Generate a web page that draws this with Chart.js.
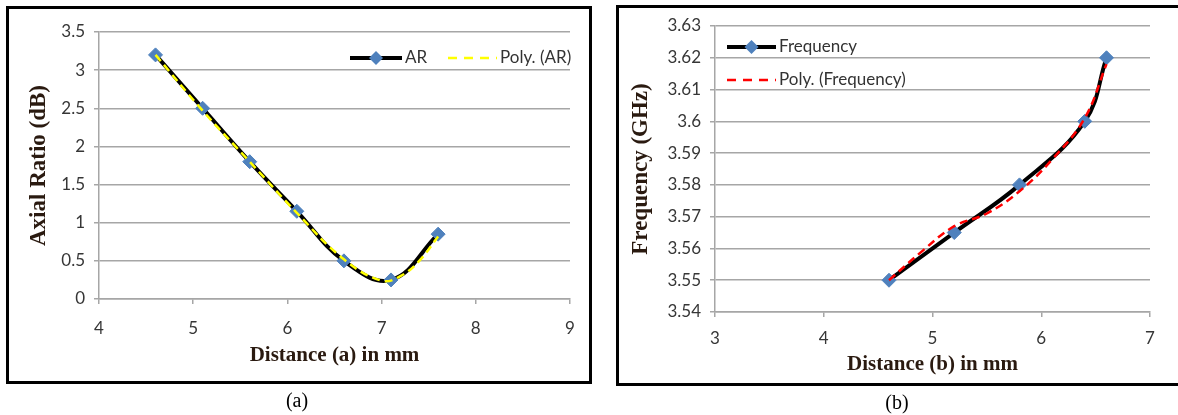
<!DOCTYPE html>
<html>
<head>
<meta charset="utf-8">
<script src="https://cdn.jsdelivr.net/npm/chart.js@4.4.0/dist/chart.umd.min.js"></script>
<style>
  body { margin:0; background:#fff; }
  #page { position:relative; width:1178px; height:415px; overflow:hidden; background:#fff; }
  .box { position:absolute; border:3px solid #000; box-sizing:border-box; }
  .cap { position:absolute; font-family:"Liberation Serif", serif; font-size:20px; color:#000; transform:translate(-50%,-50%); }
  canvas { position:absolute; top:0; }
</style>
</head>
<body>
<div id="page">
  <canvas id="chartA" width="600" height="415" style="left:0;width:600px;height:415px"></canvas>
  <canvas id="chartB" width="578" height="415" style="left:600px;width:578px;height:415px"></canvas>
  <div class="box" style="left:6px;top:6px;width:586px;height:378px"></div>
  <div class="box" style="left:616px;top:5px;width:570px;height:381px"></div>
  <div class="cap" style="left:297px;top:400px">(a)</div>
  <div class="cap" style="left:897px;top:402px">(b)</div>
</div>
<script>
// (a) axial ratio vs distance a
const distA = [4.6, 5.1, 5.6, 6.1, 6.6, 7.1, 7.6];
const arValues = [3.2, 2.5, 1.8, 1.15, 0.5, 0.25, 0.85];
// polynomial trendline
const polyDistA = [4.6, 5.1, 5.6, 6.1, 6.6, 7.0, 7.2, 7.4, 7.6];
const polyAR = [3.2, 2.47, 1.8, 1.13, 0.52, 0.24, 0.3, 0.5, 0.82];

// (b) frequency vs distance b
const distB = [4.6, 5.2, 5.8, 6.4, 6.6];
const freqValues = [3.55, 3.565, 3.58, 3.60, 3.62];
const polyDistB = [4.6, 4.9, 5.2, 5.5, 5.8, 6.1, 6.4, 6.6];
const polyFreq = [3.55, 3.559, 3.567, 3.571, 3.578, 3.588, 3.601, 3.618];

const tickFont = { family: 'Lato', size: 17 };
const xTitleFont = { family: '"Liberation Serif"', size: 21, weight: 'bold' };
const yTitleFont = { family: '"Liberation Serif"', size: 23, weight: 'bold' };
const tickCol = '#363636';
const gridCol = '#a6a6a6';
const titleCol = '#2a1a10';
const markerCol = '#4f81bd';

const pts = (xs, ys) => xs.map((x, i) => ({ x: x, y: ys[i] }));

// draws the Excel-like legend (line + marker) inside the plot
function legendPlugin(items) {
  return {
    id: 'xlLegend',
    afterDraw(chart) {
      const ctx = chart.ctx;
      ctx.save();
      items.forEach(it => {
        ctx.beginPath();
        ctx.strokeStyle = it.color;
        ctx.lineWidth = it.width;
        ctx.setLineDash(it.dash || []);
        ctx.moveTo(it.x, it.y);
        ctx.lineTo(it.x + it.len, it.y);
        ctx.stroke();
        ctx.setLineDash([]);
        if (it.marker) {
          const cx = it.x + it.len / 2, r = 7;
          ctx.fillStyle = markerCol;
          ctx.beginPath();
          ctx.moveTo(cx, it.y - r); ctx.lineTo(cx + r, it.y);
          ctx.lineTo(cx, it.y + r); ctx.lineTo(cx - r, it.y);
          ctx.closePath(); ctx.fill();
        }
        ctx.fillStyle = '#333';
        ctx.font = '17px Lato';
        ctx.textBaseline = 'middle';
        ctx.fillText(it.text, it.x + it.len + 3, it.y);
      });
      ctx.restore();
    }
  };
}

function makeOptions(o) {
  return {
    responsive: false,
    animation: false,
    layout: { padding: { left: 0, top: o.top, right: o.right, bottom: 0 } },
    plugins: { legend: { display: false }, tooltip: { enabled: false } },
    scales: {
      x: {
        type: 'linear', min: o.xmin, max: o.xmax,
        afterFit: s => { s.height = o.xh; },
        ticks: { stepSize: 1, font: tickFont, color: tickCol, padding: o.xtickpad },
        grid: { drawOnChartArea: false, color: gridCol, lineWidth: 1.5, tickLength: 5 },
        border: { color: gridCol, width: 1.5 },
        title: { display: true, text: o.xtitle, font: xTitleFont, color: titleCol, padding: { top: 0, bottom: o.xtpad } }
      },
      y: {
        min: o.ymin, max: o.ymax,
        afterFit: s => { s.width = o.yw; },
        ticks: { stepSize: o.ystep, font: tickFont, color: tickCol, padding: 9, callback: o.ycb },
        grid: { color: gridCol, lineWidth: 1.5, tickLength: 5 },
        border: { color: gridCol, width: 1.5 },
        title: { display: true, text: o.ytitle, font: yTitleFont, color: titleCol, padding: { top: o.ytpad, bottom: 0 } }
      }
    }
  };
}

new Chart(document.getElementById('chartA'), {
  type: 'scatter',
  data: {
    datasets: [
      { label: 'Poly. (AR)', data: pts(polyDistA, polyAR), showLine: true, borderColor: '#ffff00', borderWidth: 2.5, borderDash: [8, 5], pointRadius: 0, tension: 0.4, order: 0 },
      { label: 'AR', data: pts(distA, arValues), showLine: true, borderColor: '#000', borderWidth: 4, tension: 0.4,
        pointStyle: 'rectRot', pointRadius: 7, pointBackgroundColor: markerCol, pointBorderColor: markerCol, pointBorderWidth: 1, order: 1 }
    ]
  },
  options: makeOptions({ top: 32, right: 30, xmin: 4, xmax: 9, xh: 116, xtickpad: 14, xtpad: 47, xtitle: 'Distance (a) in mm',
    ymin: 0, ymax: 3.5, ystep: 0.5, yw: 99, ytpad: 25, ytitle: 'Axial Ratio (dB)', ycb: v => v }),
  plugins: [legendPlugin([
    { x: 350, y: 58, len: 52, color: '#000', width: 4, marker: true, text: 'AR' },
    { x: 448, y: 58, len: 49, color: '#ffff00', width: 2.5, dash: [9, 7], text: 'Poly. (AR)' }
  ])]
});

new Chart(document.getElementById('chartB'), {
  type: 'scatter',
  data: {
    datasets: [
      { label: 'Poly. (Frequency)', data: pts(polyDistB, polyFreq), showLine: true, borderColor: '#ff0000', borderWidth: 2.5, borderDash: [8, 5], pointRadius: 0, tension: 0.4, order: 0 },
      { label: 'Frequency', data: pts(distB, freqValues), showLine: true, borderColor: '#000', borderWidth: 4, tension: 0.4,
        pointStyle: 'rectRot', pointRadius: 7, pointBackgroundColor: markerCol, pointBorderColor: markerCol, pointBorderWidth: 1, order: 1 }
    ]
  },
  options: makeOptions({ top: 26, right: 28, xmin: 3, xmax: 7, xh: 103, xtickpad: 11, xtpad: 38, xtitle: 'Distance (b) in mm',
    ymin: 3.54, ymax: 3.63, ystep: 0.01, yw: 115, ytpad: 27, ytitle: 'Frequency (GHz)', ycb: v => +v.toFixed(2) }),
  plugins: [legendPlugin([
    { x: 127, y: 47, len: 49, color: '#000', width: 4, marker: true, text: 'Frequency' },
    { x: 127, y: 80, len: 49, color: '#ff0000', width: 2.5, dash: [9, 7], text: 'Poly. (Frequency)' }
  ])]
});
</script>
</body>
</html>
